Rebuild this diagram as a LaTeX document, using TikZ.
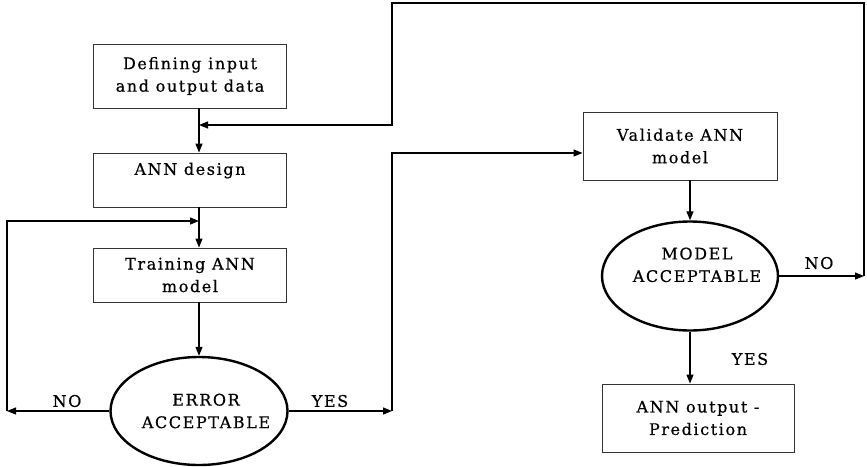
\documentclass[tikz,border=0pt]{standalone}
\usepackage{fontspec}
\setmainfont{DejaVu Serif}[LetterSpace=10, FakeBold=0.6]
\usetikzlibrary{shapes.geometric,arrows.meta}

\begin{document}
\begin{tikzpicture} [x=1pt, y=-1pt, ->, >={Triangle[length=9pt,width=7pt]}, draw=black, line width=1.2pt, font=\fontsize{16}{22.5}\selectfont]
  \tikzstyle{block}=[rectangle, draw=black!80, line width=0.9pt, minimum width=193pt, align=center, inner sep=2pt]
  \tikzstyle{decision}=[ellipse, draw=black, line width=2.4pt, align=center, inner xsep=-30pt, inner ysep=0pt]
  \tikzstyle{annot}=[inner sep=0pt]

  \useasboundingbox (0,0) rectangle (867,466);

  % left column
  \node[block, minimum height=64pt] (def) at (190,76) {Defining input\\and output data};
  \node[block, minimum height=54pt] (design) at (190,180) {ANN design\\\phantom{A}};
  \node[block, minimum height=54pt] (train) at (190,275) {Training ANN\\model};
  \node[decision, minimum width=177pt, minimum height=108pt] (err) at (199,411) {\hspace*{14pt}ERROR\\\hspace*{14pt}ACCEPTABLE};

  % right column
  \node[block, minimum width=194pt, minimum height=68pt] (val) at (680,146) {Validate ANN\\model};
  \node[decision, minimum width=176pt, minimum height=109pt] (model) at (690,276) {\hspace*{14pt}MODEL\\\hspace*{14pt}ACCEPTABLE\\\phantom{A}};
  \node[block, minimum width=192pt, minimum height=68pt] (out) at (698,418) {ANN output -\\Prediction};

  \node[annot] (no1) at (67,401) {NO};
  \node[annot] (yes1) at (330,401) {YES};
  \node[annot] (no2) at (819,263) {NO};
  \node[annot] (yes2) at (750,359) {YES};

  \coordinate (fb) at (199,221);
  \coordinate (noL) at (7,411);
  \coordinate (yesR) at (392,411);
  \coordinate (yesT) at (392,153);
  \coordinate (noR) at (864,276);
  \coordinate (topR) at (864,3);
  \coordinate (topL) at (392,3);
  \coordinate (back) at (392,125);

  \draw (def.south -| err.north) -- (design.north -| err.north);
  \draw (design.south -| err.north) -- (train.north -| err.north);
  \draw (train.south -| err.north) -- (err.north);
  \draw (err.west) -- (noL);
  \draw (noL) -- (noL |- fb) -- (fb);
  \draw (err.east) -- (yesR);
  \draw (yesR) -- (yesT) -- (yesT -| val.west);
  \draw (val.south -| model.north) -- (model.north);
  \draw (model.east) -- (noR);
  \draw (noR) -- (topR) -- (topL) -- (back) -- (back -| err.north);
  \draw (model.south) -- (out.north -| model.south);

\end{tikzpicture}
\end{document}
